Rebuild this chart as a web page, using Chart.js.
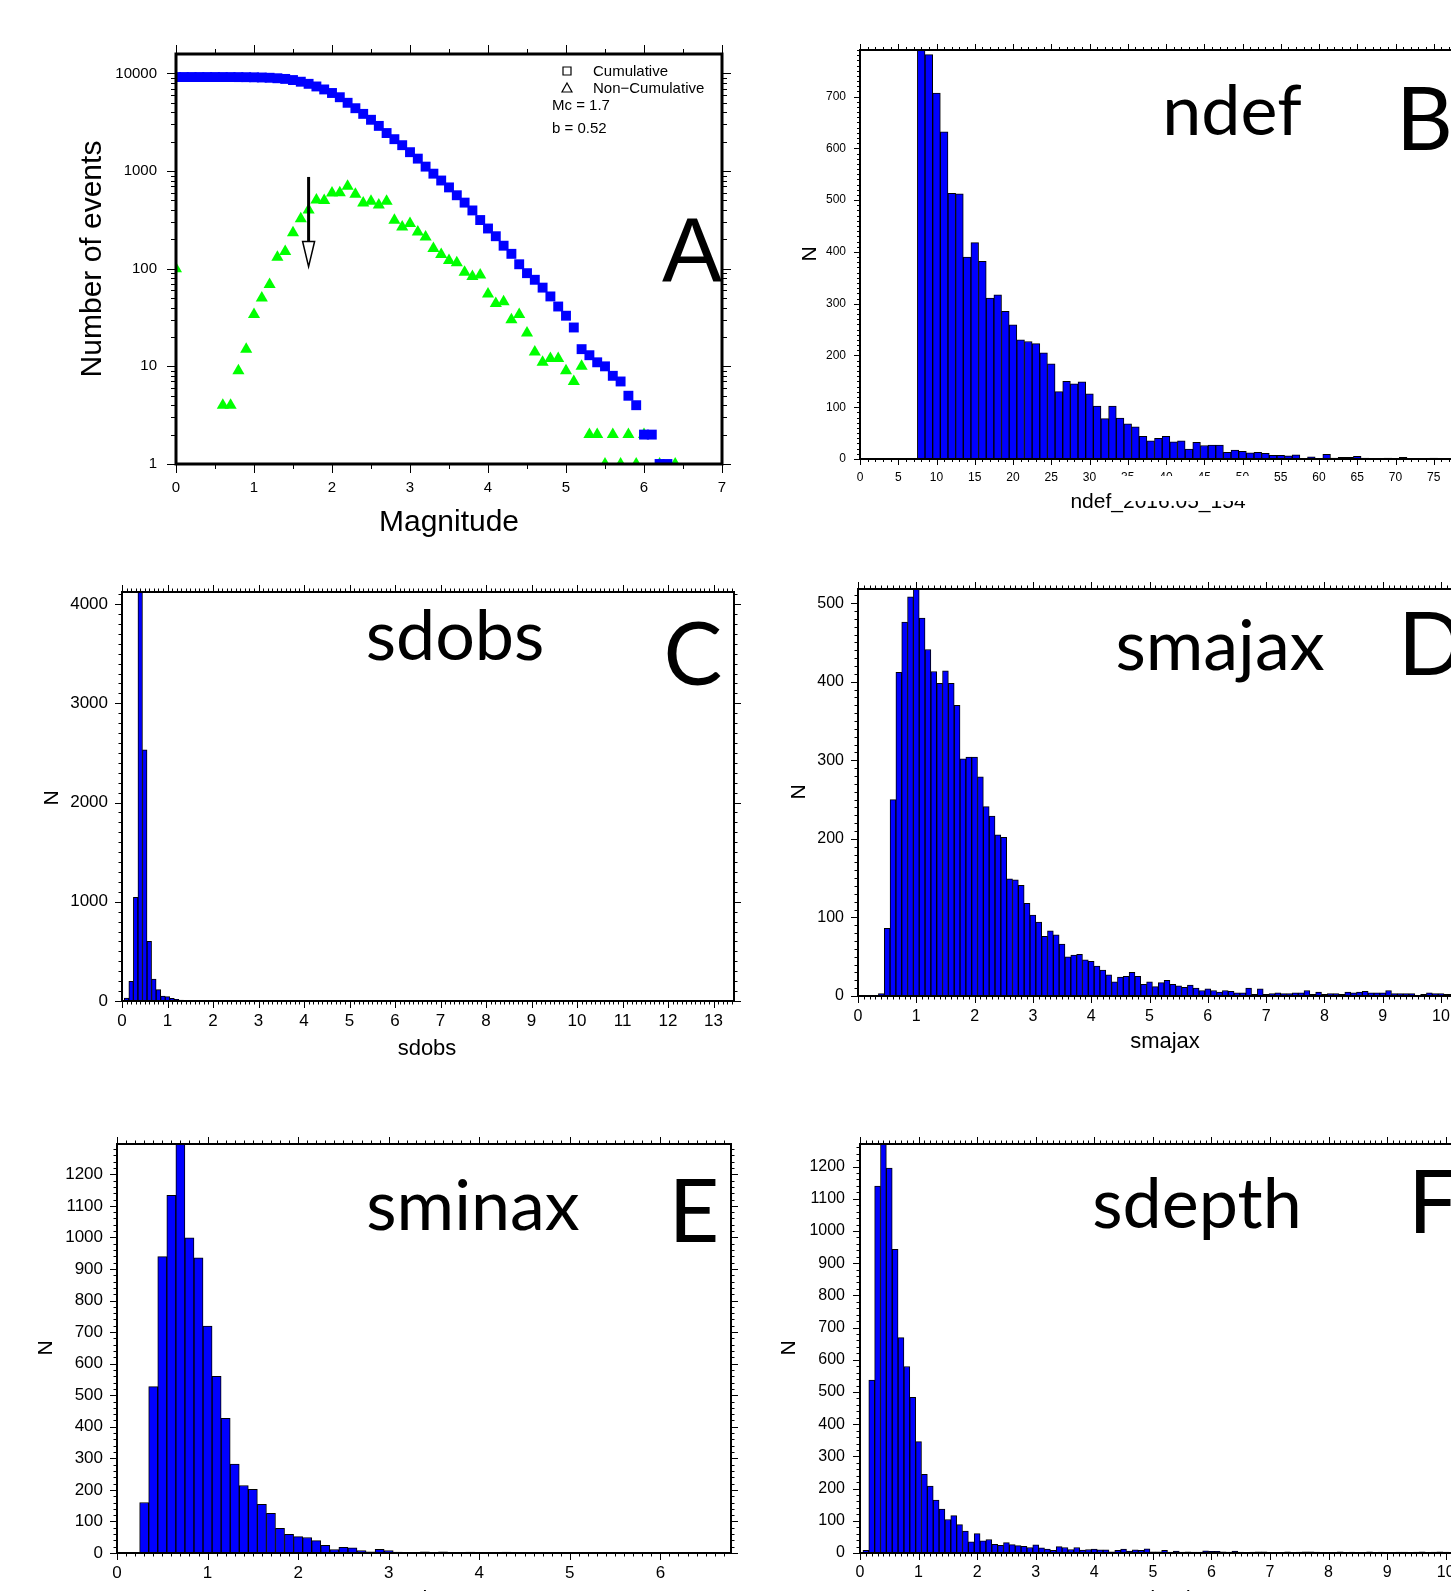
<!DOCTYPE html>
<html>
<head>
<meta charset="utf-8">
<title>Catalogue statistics</title>
<script src="https://cdn.jsdelivr.net/npm/chart.js@4.4.0/dist/chart.umd.min.js"></script>
<style>
  html, body { margin: 0; padding: 0; background: #fff; }
  body { position: relative; width: 1451px; height: 1591px; overflow: hidden; }
  canvas { position: absolute; }
</style>
</head>
<body>
<canvas id="panelA"></canvas>
<canvas id="panelB"></canvas>
<canvas id="panelC"></canvas>
<canvas id="panelD"></canvas>
<canvas id="panelE"></canvas>
<canvas id="panelF"></canvas>
<script>
// ---------- A: frequency-magnitude distribution ----------
const cumMag = [0.0, 0.1, 0.2, 0.3, 0.4, 0.5, 0.6, 0.7, 0.8, 0.9,
  1.0, 1.1, 1.2, 1.3, 1.4, 1.5, 1.6, 1.7, 1.8, 1.9,
  2.0, 2.1, 2.2, 2.3, 2.4, 2.5, 2.6, 2.7, 2.8, 2.9,
  3.0, 3.1, 3.2, 3.3, 3.4, 3.5, 3.6, 3.7, 3.8, 3.9,
  4.0, 4.1, 4.2, 4.3, 4.4, 4.5, 4.6, 4.7, 4.8, 4.9,
  5.0, 5.1, 5.2, 5.3, 5.4, 5.5, 5.6, 5.7, 5.8, 5.9,
  6.0, 6.1, 6.2, 6.3];
const cumCount = [9180, 9180, 9180, 9180, 9180, 9180, 9176, 9172, 9163, 9148,
  9120, 9080, 9020, 8920, 8780, 8550, 8220, 7820, 7350, 6850,
  6300, 5700, 5000, 4400, 3850, 3350, 2900, 2450, 2120, 1840,
  1560, 1340, 1110, 940, 800, 680, 565, 475, 395, 315,
  258, 215, 172, 142, 111, 90, 77, 64, 52, 41,
  33, 25, 15, 13, 11, 10, 8, 7, 5, 4,
  2, 2, 1, 1];
const ncMag = [0.0, 0.6, 0.7, 0.8, 0.9, 1.0,
  1.1, 1.2, 1.3, 1.4, 1.5, 1.6, 1.7, 1.8, 1.9, 2.0,
  2.1, 2.2, 2.3, 2.4, 2.5, 2.6, 2.7, 2.8, 2.9, 3.0,
  3.1, 3.2, 3.3, 3.4, 3.5, 3.6, 3.7, 3.8, 3.9, 4.0,
  4.1, 4.2, 4.3, 4.4, 4.5, 4.6, 4.7, 4.8, 4.9, 5.0,
  5.1, 5.2, 5.3, 5.4, 5.5, 5.6, 5.7, 5.8, 5.9, 6.0,
  6.2, 6.4];
const ncCount = [100, 4, 4, 9, 15, 34,
  50, 69, 131, 150, 234, 324, 400, 505, 500, 595,
  600, 700, 580, 470, 490, 450, 490, 313, 268, 290,
  238, 211, 161, 140, 121, 115, 92, 83, 86, 55,
  44, 46, 30, 34, 22, 14, 11, 12, 12, 9,
  7, 10, 2, 2, 1, 2, 1, 2, 1, 2,
  1, 1];
const mcArrow = { mag: 1.7, tail: 870, headBase: 190, tip: 105 };
const magTicks = [0, 1, 2, 3, 4, 5, 6, 7];
const eventTicks = [1, 10, 100, 1000, 10000];

// ---------- B: ndef ----------
const ndefCounts = [0, 0, 0, 0, 0, 0, 0, 0,
  790, 781, 707, 632, 513, 512, 390, 418, 382, 311,
  317, 285, 259, 230, 227, 223, 205, 184, 130, 150,
  145, 149, 126, 102, 78, 102, 79, 68, 62, 44,
  35, 40, 44, 33, 35, 19, 32, 26, 27, 27,
  13, 17, 15, 12, 13, 11, 7, 7, 6, 8,
  1, 4, 1, 9, 2, 3, 3, 5, 2, 1,
  1, 2, 1, 3, 1, 1, 1, 2, 1, 1];
const ndefTicks = [0, 5, 10, 15, 20, 25, 30, 35, 40, 45, 50, 55, 60, 65, 70, 75, 80];
const ndefNTicks = [0, 100, 200, 300, 400, 500, 600, 700];

// ---------- C: sdobs ----------
const sdobsCounts = [30, 198, 1045, 4150, 2531, 602, 222, 114, 50, 44,
  27, 17, 10, 6, 5, 4, 3, 3, 2, 2,
  2, 1, 1, 1, 1, 1, 0, 1, 0, 1];
const sdobsTicks = [0, 1, 2, 3, 4, 5, 6, 7, 8, 9, 10, 11, 12, 13];
const sdobsNTicks = [0, 1000, 2000, 3000, 4000];

// ---------- D: smajax ----------
const smajaxCounts = [0, 0, 0, 3, 86, 250, 412, 476, 508, 525,
  481, 441, 413, 398, 414, 398, 370, 302, 304, 304,
  279, 241, 229, 205, 202, 149, 148, 141, 118, 103,
  94, 76, 83, 78, 66, 50, 52, 53, 46, 44,
  38, 33, 27, 18, 24, 25, 30, 25, 15, 18,
  12, 17, 20, 15, 13, 11, 14, 10, 7, 9,
  7, 5, 7, 6, 4, 4, 10, 2, 9, 2,
  3, 4, 3, 3, 4, 4, 7, 2, 5, 2,
  3, 3, 2, 5, 4, 5, 6, 4, 4, 4,
  7, 3, 3, 3, 3, 1, 2, 4, 3, 3,
  2, 2, 2, 1, 2];
const smajaxTicks = [0, 1, 2, 3, 4, 5, 6, 7, 8, 9, 10];
const smajaxNTicks = [0, 100, 200, 300, 400, 500];

// ---------- E: sminax ----------
const sminaxCounts = [160, 527, 939, 1133, 1310, 999, 935, 719, 560, 427,
  282, 214, 202, 154, 126, 78, 59, 52, 49, 39,
  24, 11, 18, 16, 8, 4, 12, 8, 3, 1,
  1, 4, 1, 4, 2, 2, 3, 1, 2, 2,
  3, 1, 0, 2, 1, 0, 1, 0, 0, 1,
  0, 0, 1, 0, 0, 0, 1, 0, 0, 0];
const sminaxTicks = [0, 1, 2, 3, 4, 5, 6];
const sminaxNTicks = [0, 100, 200, 300, 400, 500, 600, 700, 800, 900, 1000, 1100, 1200];

// ---------- F: sdepth ----------
const sdepthCounts = [8, 537, 1139, 1290, 1195, 943, 669, 579, 483, 346,
  244, 208, 164, 136, 104, 116, 88, 68, 35, 60,
  38, 42, 27, 24, 32, 26, 23, 21, 17, 25,
  16, 12, 8, 20, 17, 11, 17, 9, 11, 12,
  10, 10, 4, 8, 12, 6, 10, 8, 13, 4,
  4, 8, 3, 6, 3, 4, 3, 3, 7, 5,
  5, 4, 3, 6, 3, 2, 3, 4, 4, 2,
  2, 2, 4, 2, 3, 4, 4, 3, 2, 2,
  2, 4, 2, 3, 2, 2, 4, 2, 3, 2,
  2, 3, 3, 2, 3, 4, 2, 3, 4, 3,
  2, 3, 2, 2];
const sdepthTicks = [0, 1, 2, 3, 4, 5, 6, 7, 8, 9, 10];
const sdepthNTicks = [0, 100, 200, 300, 400, 500, 600, 700, 800, 900, 1000, 1100, 1200];

// ---------- layout / style ----------
const PAD = { left: 110, top: 50, right: 40, bottom: 90 };
const SANS = '"Liberation Sans", Arial, Helvetica, sans-serif';
const BIG = 'Lato, "Open Sans", sans-serif';
const BLUE = '#0000ff';
const GREEN = '#00ff00';

function place(canvas, f) {
  const w = Math.round(f.r - f.l + PAD.left + PAD.right);
  const h = Math.round(f.b - f.t + PAD.top + PAD.bottom);
  canvas.width = w;
  canvas.height = h;
  canvas.style.width = w + 'px';
  canvas.style.height = h + 'px';
  canvas.style.left = (f.l - PAD.left) + 'px';
  canvas.style.top = (f.t - PAD.top) + 'px';
  return { ox: f.l - PAD.left, oy: f.t - PAD.top };
}

function axis(pos, opts) {
  const a = {
    type: opts.type || 'linear',
    position: pos,
    min: opts.min,
    max: opts.max,
    offset: false,
    grid: { display: false, drawTicks: false },
    border: { display: false },
    ticks: {
      color: '#000',
      font: { family: SANS, size: opts.font },
      padding: opts.pad,
      autoSkip: false,
      maxRotation: 0,
      callback: (v) => String(v)
    },
    afterBuildTicks: (s) => { s.ticks = opts.ticks.map((v) => ({ value: v })); }
  };
  if (pos === 'left') a.afterFit = (s) => { s.width = PAD.left; };
  else a.afterFit = (s) => { s.height = PAD.bottom; };
  return a;
}

function range(min, max, step) {
  const out = [];
  for (let v = min; v <= max + 1e-9; v += step) out.push(+v.toFixed(4));
  return out;
}

// frame, outward ticks on all four sides, annotation text
const gmtFrame = {
  id: 'gmtFrame',
  afterDraw(chart, args, o) {
    const { ctx, chartArea: a, scales } = chart;
    const x = scales.x, y = scales.y;
    ctx.save();
    ctx.strokeStyle = '#000';
    ctx.lineWidth = 1;
    const line = (x1, y1, x2, y2) => { ctx.beginPath(); ctx.moveTo(x1, y1); ctx.lineTo(x2, y2); ctx.stroke(); };
    const xTicks = (vals, len) => vals.forEach((v) => {
      const p = Math.round(x.getPixelForValue(v)) + 0.5;
      if (p < a.left - 1 || p > a.right + 1) return;
      line(p, a.bottom, p, a.bottom + len);
      line(p, a.top, p, a.top - len);
    });
    const yTicks = (vals, len) => vals.forEach((v) => {
      const p = Math.round(y.getPixelForValue(v)) + 0.5;
      if (p < a.top - 1 || p > a.bottom + 1) return;
      line(a.left, p, a.left - len, p);
      line(a.right, p, a.right + len, p);
    });
    xTicks(o.xMinor, o.minorLen);
    xTicks(o.xMajor, o.majorLen);
    yTicks(o.yMinor, o.minorLen);
    yTicks(o.yMajor, o.majorLen);

    if (o.arrow) {
      const ar = o.arrow;
      const px = x.getPixelForValue(ar.mag);
      const y0 = y.getPixelForValue(ar.tail);
      const y1 = y.getPixelForValue(ar.headBase);
      const y2 = y.getPixelForValue(ar.tip);
      ctx.lineWidth = 3;
      line(px, y0, px, y1);
      ctx.beginPath();
      ctx.moveTo(px - 6, y1);
      ctx.lineTo(px + 6, y1);
      ctx.lineTo(px, y2);
      ctx.closePath();
      ctx.fillStyle = '#fff';
      ctx.fill();
      ctx.lineWidth = 1.5;
      ctx.stroke();
    }

    ctx.lineWidth = o.frameWidth;
    ctx.strokeRect(a.left, a.top, a.right - a.left, a.bottom - a.top);

    ctx.fillStyle = '#000';
    (o.texts || []).forEach((t) => {
      ctx.save();
      ctx.font = t.font;
      ctx.textAlign = t.align || 'center';
      ctx.textBaseline = 'alphabetic';
      ctx.translate(t.x - o.ox, t.y - o.oy);
      if (t.rot) ctx.rotate(t.rot);
      ctx.fillText(t.text, 0, 0);
      ctx.restore();
    });
    (o.shapes || []).forEach((s) => {
      const cx = s.x - o.ox, cy = s.y - o.oy;
      ctx.lineWidth = 1.2;
      ctx.beginPath();
      if (s.kind === 'square') ctx.rect(cx - 4, cy - 4, 8, 8);
      else { ctx.moveTo(cx, cy - 5); ctx.lineTo(cx + 5, cy + 4); ctx.lineTo(cx - 5, cy + 4); ctx.closePath(); }
      ctx.stroke();
    });
    (o.masks || []).forEach((m) => {
      ctx.fillStyle = '#fff';
      ctx.fillRect(m.x - o.ox, m.y - o.oy, m.w, m.h);
    });
    ctx.restore();
  }
};

const baseOptions = {
  responsive: false,
  maintainAspectRatio: false,
  devicePixelRatio: 1,
  animation: false,
  events: [],
  layout: { padding: { left: 0, top: PAD.top, right: PAD.right, bottom: 0 } }
};

function histogram(id, frame, spec) {
  const canvas = document.getElementById(id);
  const off = place(canvas, frame);
  const data = spec.counts.map((n, i) => ({ x: +(spec.start + i * spec.width).toFixed(3), y: n }));
  return new Chart(canvas, {
    type: 'bar',
    data: {
      datasets: [{
        data,
        backgroundColor: BLUE,
        borderColor: '#000',
        borderWidth: 1,
        barPercentage: 1,
        categoryPercentage: 1
      }]
    },
    options: Object.assign({}, baseOptions, {
      scales: {
        x: axis('bottom', { min: 0, max: spec.xMax, ticks: spec.xTicks, font: spec.font, pad: spec.xPad }),
        y: axis('left', { min: 0, max: spec.yMax, ticks: spec.yTicks, font: spec.font, pad: spec.yPad })
      },
      plugins: {
        legend: { display: false },
        tooltip: { enabled: false },
        gmtFrame: Object.assign({
          ox: off.ox, oy: off.oy,
          xMajor: spec.xTicks,
          yMajor: spec.yTicks,
          xMinor: range(0, spec.xMax, spec.xMinorStep),
          yMinor: range(0, spec.yMax, spec.yMinorStep),
          majorLen: 7, minorLen: 3.5, frameWidth: 2
        }, spec.deco)
      }
    }),
    plugins: [gmtFrame]
  });
}

// ---------- panel A ----------
(function () {
  const canvas = document.getElementById('panelA');
  const frame = { l: 176, t: 54, r: 722, b: 464 };
  const off = place(canvas, frame);
  const yMinor = [];
  [1, 10, 100, 1000, 10000].forEach((d) => { for (let k = 2; k <= 9; k++) if (d * k <= 15800) yMinor.push(d * k); });
  new Chart(canvas, {
    type: 'scatter',
    data: {
      datasets: [
        {
          label: 'Cumulative',
          data: cumMag.map((m, i) => ({ x: m, y: cumCount[i] })),
          pointStyle: 'rect', pointRadius: 7, borderWidth: 0,
          backgroundColor: BLUE, borderColor: BLUE, clip: 0
        },
        {
          label: 'Non-Cumulative',
          data: ncMag.map((m, i) => ({ x: m, y: ncCount[i] })),
          pointStyle: 'triangle', pointRadius: 7, borderWidth: 0,
          backgroundColor: GREEN, borderColor: GREEN, clip: 0
        }
      ]
    },
    options: Object.assign({}, baseOptions, {
      scales: {
        x: axis('bottom', { min: 0, max: 7, ticks: magTicks, font: 15, pad: 15 }),
        y: axis('left', { type: 'logarithmic', min: 1, max: 15800, ticks: eventTicks, font: 15, pad: 19 })
      },
      plugins: {
        legend: { display: false },
        tooltip: { enabled: false },
        gmtFrame: {
          ox: off.ox, oy: off.oy,
          xMajor: magTicks, xMinor: range(0, 7, 0.5),
          yMajor: eventTicks, yMinor,
          majorLen: 9, minorLen: 5, frameWidth: 3,
          arrow: mcArrow,
          texts: [
            { text: 'Number of events', x: 101, y: 259, rot: -Math.PI / 2, font: '30px ' + SANS },
            { text: 'Magnitude', x: 449, y: 531, font: '30px ' + SANS },
            { text: 'A', x: 692, y: 281, font: '90px ' + SANS },
            { text: 'Cumulative', x: 593, y: 76, align: 'left', font: '15px ' + SANS },
            { text: 'Non\u2212Cumulative', x: 593, y: 93, align: 'left', font: '15px ' + SANS },
            { text: 'Mc = 1.7', x: 552, y: 110, align: 'left', font: '15px ' + SANS },
            { text: 'b = 0.52', x: 552, y: 133, align: 'left', font: '15px ' + SANS }
          ],
          shapes: [
            { kind: 'square', x: 567, y: 71 },
            { kind: 'triangle', x: 567, y: 88 }
          ]
        }
      }
    }),
    plugins: [gmtFrame]
  });
})();

// ---------- panels B - F ----------
histogram('panelB', { l: 860, t: 50, r: 1472, b: 459 }, {
  counts: ndefCounts, start: 0, width: 1,
  xMax: 80, yMax: 790, xTicks: ndefTicks, yTicks: ndefNTicks,
  xMinorStep: 1, yMinorStep: 10, font: 12, xPad: 11, yPad: 14,
  deco: {
    majorLen: 6, minorLen: 3,
    texts: [
      { text: 'N', x: 816, y: 254, rot: -Math.PI / 2, font: '21px ' + SANS },
      { text: 'ndef_2016.05_154', x: 1158, y: 508, font: '21px ' + SANS },
      { text: 'ndef', x: 1232, y: 135, font: '70px ' + BIG },
      { text: 'B', x: 1396, y: 150, align: 'left', font: '88px ' + BIG }
    ],
    masks: [{ x: 1119, y: 476, w: 144, h: 25 }]
  }
});

histogram('panelC', { l: 122, t: 592, r: 734, b: 1001 }, {
  counts: sdobsCounts, start: 0.1, width: 0.1,
  xMax: 13.45, yMax: 4122, xTicks: sdobsTicks, yTicks: sdobsNTicks,
  xMinorStep: 0.1, yMinorStep: 100, font: 17, xPad: 10, yPad: 14,
  deco: {
    texts: [
      { text: 'N', x: 58, y: 798, rot: -Math.PI / 2, font: '21px ' + SANS },
      { text: 'sdobs', x: 427, y: 1055, font: '22px ' + SANS },
      { text: 'sdobs', x: 455, y: 660, font: '70px ' + BIG },
      { text: 'C', x: 693, y: 685, font: '88px ' + BIG }
    ]
  }
});

histogram('panelD', { l: 858, t: 589, r: 1476, b: 996 }, {
  counts: smajaxCounts, start: 0.1, width: 0.1,
  xMax: 10.6, yMax: 518, xTicks: smajaxTicks, yTicks: smajaxNTicks,
  xMinorStep: 0.1, yMinorStep: 10, font: 16, xPad: 11, yPad: 14,
  deco: {
    texts: [
      { text: 'N', x: 805, y: 792, rot: -Math.PI / 2, font: '21px ' + SANS },
      { text: 'smajax', x: 1165, y: 1048, font: '22px ' + SANS },
      { text: 'smajax', x: 1220, y: 670, font: '70px ' + BIG },
      { text: 'D', x: 1398, y: 675, align: 'left', font: '88px ' + BIG }
    ]
  }
});

histogram('panelE', { l: 117, t: 1144, r: 731, b: 1553 }, {
  counts: sminaxCounts, start: 0.3, width: 0.1,
  xMax: 6.78, yMax: 1296, xTicks: sminaxTicks, yTicks: sminaxNTicks,
  xMinorStep: 0.1, yMinorStep: 20, font: 17, xPad: 10, yPad: 14,
  deco: {
    texts: [
      { text: 'N', x: 52, y: 1348, rot: -Math.PI / 2, font: '21px ' + SANS },
      { text: 'sminax', x: 428, y: 1606, font: '22px ' + SANS },
      { text: 'sminax', x: 473, y: 1230, font: '70px ' + BIG },
      { text: 'E', x: 694, y: 1242, font: '88px ' + BIG }
    ]
  }
});

histogram('panelF', { l: 860, t: 1144, r: 1475, b: 1553 }, {
  counts: sdepthCounts, start: 0.1, width: 0.1,
  xMax: 10.5, yMax: 1270, xTicks: sdepthTicks, yTicks: sdepthNTicks,
  xMinorStep: 0.1, yMinorStep: 20, font: 16, xPad: 10, yPad: 15,
  deco: {
    texts: [
      { text: 'N', x: 795, y: 1348, rot: -Math.PI / 2, font: '21px ' + SANS },
      { text: 'sdepth', x: 1165, y: 1606, font: '22px ' + SANS },
      { text: 'sdepth', x: 1197, y: 1228, font: '70px ' + BIG },
      { text: 'F', x: 1408, y: 1233, align: 'left', font: '88px ' + BIG }
    ]
  }
});
</script>
</body>
</html>
